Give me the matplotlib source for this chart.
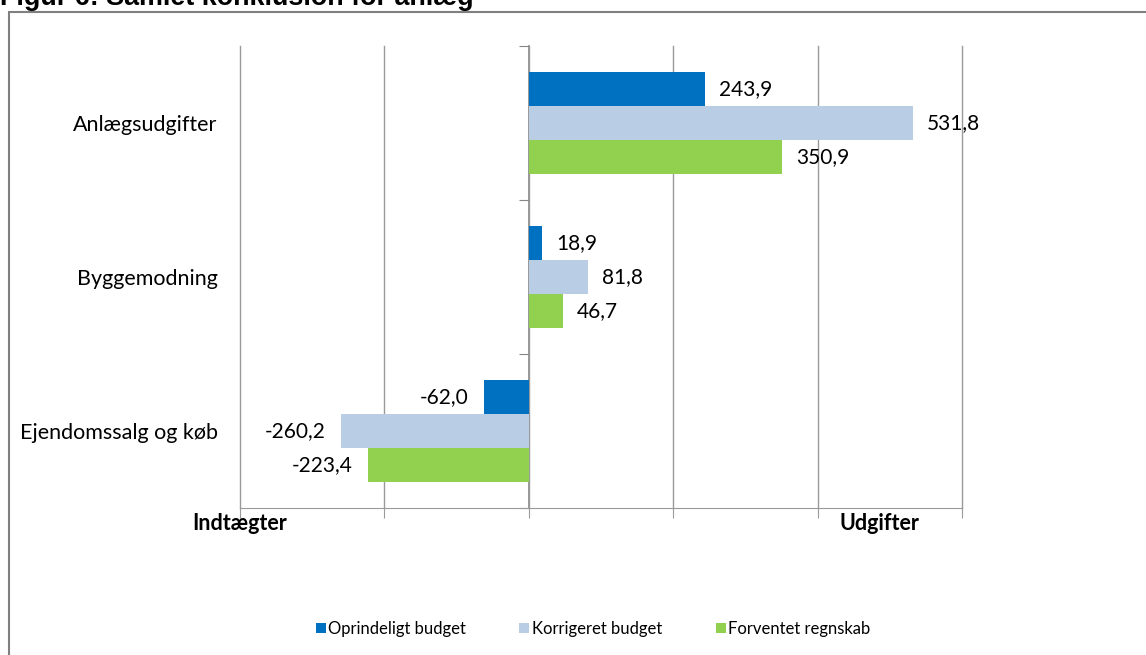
import numpy as np
import matplotlib.pyplot as plt
from matplotlib.patches import Rectangle

categories = ['Anlægsudgifter', 'Byggemodning', 'Ejendomssalg og køb']
series = ['Oprindeligt budget', 'Korrigeret budget', 'Forventet regnskab']
oprindeligt = [243.9, 18.9, -62.0]
korrigeret = [531.8, 81.8, -260.2]
forventet = [350.9, 46.7, -223.4]
colors = ['#0070C0', '#B9CDE5', '#92D050']

plt.rcParams['font.family'] = ['Lato', 'DejaVu Sans']

fig = plt.figure(figsize=(11.46, 6.55), dpi=100)
ax = fig.add_axes([240 / 1146, 1 - 508 / 655, 722 / 1146, 462 / 655])

ypos = np.arange(len(categories))[::-1]
h = 0.22
for i, (vals, c) in enumerate(zip([oprindeligt, korrigeret, forventet], colors)):
    y = ypos + (1 - i) * h
    ax.barh(y, vals, height=h, color=c, label=series[i], zorder=3)
    for yy, v in zip(y, vals):
        txt = f'{v:.1f}'.replace('.', ',')
        if v >= 0:
            ax.annotate(txt, (v, yy), xytext=(10, 0), textcoords='offset points',
                        ha='left', va='center', fontsize=15, zorder=5)
        else:
            ax.annotate(txt, (v, yy), xytext=(-11, 0), textcoords='offset points',
                        ha='right', va='center', fontsize=15, zorder=5)

ax.set_xlim(-400, 600)
ax.set_ylim(-0.5, 2.5)
ax.set_xticks(np.arange(-400, 601, 200))
ax.set_xticklabels([])
ax.tick_params(axis='x', length=7, color='#9a9a9a', direction='out')
ax.grid(axis='x', color='#9a9a9a', linewidth=1, zorder=0)
for gl in ax.get_xgridlines():
    gl.set_clip_on(False)

ax.set_yticks(ypos)
ax.set_yticklabels(categories, fontsize=15.5)
ax.tick_params(axis='y', length=0, pad=16)

for s in ['top', 'right', 'left']:
    ax.spines[s].set_visible(False)
ax.spines['bottom'].set_color('#9a9a9a')

# vertical zero axis with category boundary ticks
sec = ax.secondary_yaxis(0.4)
sec.set_yticks(np.arange(-0.5, 2.6, 1))
sec.set_yticklabels([])
sec.tick_params(length=7, color='#868686')
sec.spines['left'].set_color('#868686')
sec.spines['left'].set_linewidth(1.2)

ax.text(0, -0.0346, 'Indtægter', transform=ax.transAxes, ha='center', va='center',
        fontsize=15.5, fontweight='bold')
ax.text(0.885, -0.0346, 'Udgifter', transform=ax.transAxes, ha='center', va='center',
        fontsize=15.5, fontweight='bold')

ax.legend(loc='center', bbox_to_anchor=(593 / 1146, 1 - 629 / 655), bbox_transform=fig.transFigure,
          ncol=3, frameon=False, fontsize=12, handlelength=0.6, handleheight=0.6,
          handletextpad=0.15, columnspacing=3.2)

fig.patches.append(Rectangle((9 / 1146, -0.02), 1.1, 1 - 12 / 655 + 0.02,
                             transform=fig.transFigure, fill=False,
                             edgecolor='#808080', linewidth=1.5))
fig.text(0, 1 - 5 / 655, 'Figur 6: Samlet konklusion for anlæg', ha='left', va='baseline',
         fontsize=19.4, fontweight='bold', family='Liberation Sans')

fig.savefig('out.png', dpi=100)
